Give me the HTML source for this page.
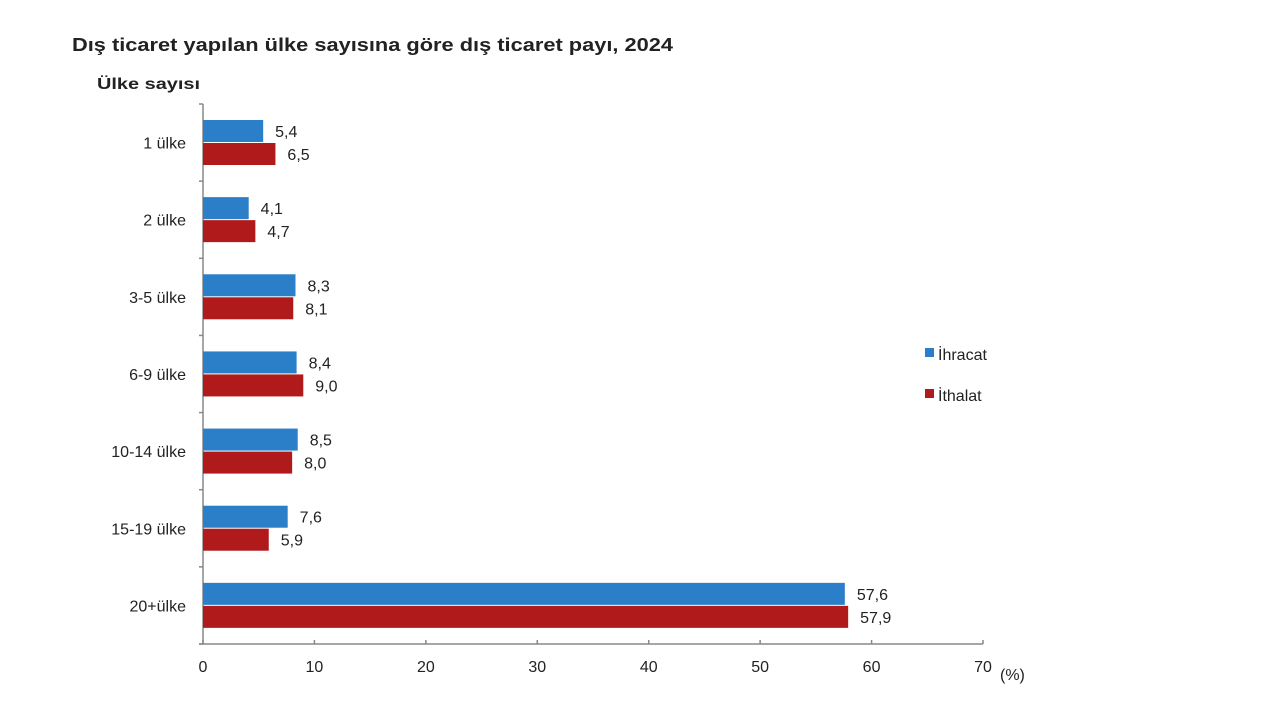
<!DOCTYPE html>
<html><head><meta charset="utf-8"><style>
body{margin:0;background:#fff;}
svg text{font-family:"Liberation Sans",Arial,sans-serif;fill:#222;}
</style></head><body>
<svg id="c" width="1280" height="712">
<text x="72" y="51" font-size="18" font-weight="bold" textLength="601" lengthAdjust="spacingAndGlyphs">Dış ticaret yapılan ülke sayısına göre dış ticaret payı, 2024</text>
<text x="97" y="89" font-size="16" font-weight="bold" textLength="103" lengthAdjust="spacingAndGlyphs">Ülke sayısı</text>
<g id="g"></g>
<text x="1000" y="680" font-size="16">(%)</text>
<rect x="925" y="348" width="9" height="9" fill="#2a7fc8"/>
<text x="938" y="360" font-size="16">İhracat</text>
<rect x="925" y="389" width="9" height="9" fill="#b01a1a"/>
<text x="938" y="401" font-size="16">İthalat</text>
</svg>
<script>
const categories=["1 ülke","2 ülke","3-5 ülke","6-9 ülke","10-14 ülke","15-19 ülke","20+ülke"];
const ihracat=[5.4,4.1,8.3,8.4,8.5,7.6,57.6];
const ithalat=[6.5,4.7,8.1,9.0,8.0,5.9,57.9];
const xTicks=[0,10,20,30,40,50,60,70];
const g=document.getElementById('g');
const NS='http://www.w3.org/2000/svg';
const x0=203,x1=983,y0=104,y1=644,xmax=70;
const X=v=>x0+v/xmax*(x1-x0);
const band=(y1-y0)/categories.length;
function mk(t,a){const e=document.createElementNS(NS,t);for(const k in a)e.setAttribute(k,a[k]);g.appendChild(e);return e;}
let ax=mk('line',{x1:x0,y1:y0,x2:x0,y2:y1,stroke:'#888','stroke-width':1.5});


let bx=mk('line',{x1:x0-4,y1:y1,x2:x1,y2:y1,stroke:'#888','stroke-width':1.5});


for(let i=0;i<=categories.length;i++){
 const t=mk('line',{x1:x0-4,y1:y0+i*band,x2:x0,y2:y0+i*band,stroke:'#888','stroke-width':1.5});
 
 
}
xTicks.forEach(v=>{
 const t=mk('line',{x1:X(v),y1:y1,x2:X(v),y2:y1-4,stroke:'#888','stroke-width':1.5});
 
 
 const l=mk('text',{x:X(v),y:y1+28,'font-size':16,'text-anchor':'middle'});
 l.textContent=v;
 
 
});
categories.forEach((c,i)=>{
 const top=y0+i*band;
 const l=mk('text',{x:186,y:top+band/2+6,'font-size':16,'text-anchor':'end'});
 l.textContent=c;
 
 
 [[ihracat,'#2a7fc8',16,'bar-ihracat'],[ithalat,'#b01a1a',39,'bar-ithalat']].forEach(([s,col,off,nm])=>{
  const v=s[i];
  const r=mk('rect',{x:x0,y:top+off,width:X(v)-x0,height:22,fill:col});
  
  
  const t=mk('text',{x:X(v)+12,y:top+off+17,'font-size':16});
  t.textContent=v.toFixed(1).replace('.',',');
  
  
 });
});
</script>
</body></html>
